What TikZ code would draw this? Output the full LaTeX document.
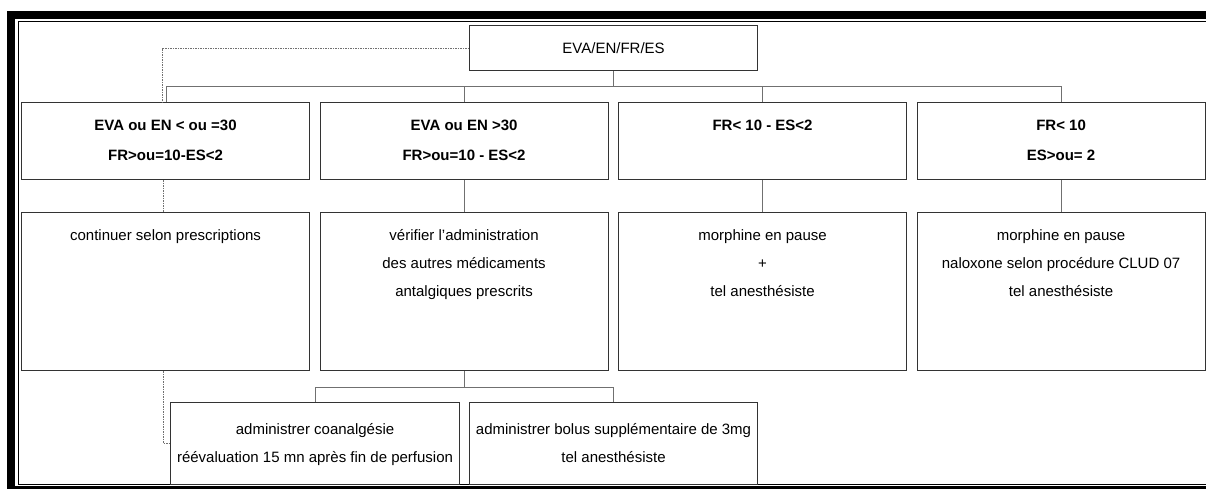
\documentclass[tikz,border=0pt]{standalone}
\usepackage{fontspec}
\setmainfont{Liberation Sans}
\usepackage{tikz}
\usetikzlibrary{positioning, calc}
\definecolor{boxgray}{HTML}{333333}
\definecolor{linegray}{HTML}{707070}

\begin{document}
\begin{tikzpicture}[x=1pt, y=-1pt,
  box/.style={draw=boxgray, line width=1.1pt, minimum width=288pt, inner sep=0pt, anchor=north west},
  txt/.style={font=\fontsize{15}{28}\selectfont, align=center, inner sep=0pt},
  crit/.style={txt, font=\bfseries\fontsize{15}{30}\selectfont},
  link/.style={draw=linegray, line width=0.8pt},
  dots/.style={draw=linegray, line width=0.7pt, dash pattern=on 1.5pt off 1pt}]
  \useasboundingbox (0,0) rectangle (1206,489);
  % double frame, right side cut off
  \fill[black] (7,11) rectangle (1206,19);
  \fill[black] (7,11) rectangle (15,489);
  \fill[black] (7,486) rectangle (1206,489);
  \draw[line width=0.8pt] (1206,21.5) -- (18,21.5) -- (18,484) -- (1206,484);

  % boxes
  \node[box, minimum height=45pt] (top) at (469,25) {};
  \foreach \i/\x in {1/21, 2/319.5, 3/618, 4/916.5}{
    \node[box, minimum height=77pt] (c\i) at (\x,102) {};
    \node[box, minimum height=158pt] (a\i) at (\x,212) {};
  }
  \node[box, minimum width=289pt, minimum height=82pt] (b1) at (170,402) {};
  \node[box, minimum height=82pt] (b2) at (469,402) {};

  % texts
  \node[txt] (toptxt) at (top.center) {EVA/EN/FR/ES};
  \node[crit, below=18pt of c1.north] (c1txt) {EVA ou EN < ou =30\\FR>ou=10-ES<2};
  \node[crit, below=18pt of c2.north] (c2txt) {EVA ou EN >30\\FR>ou=10 - ES<2};
  \node[crit, below=18pt of c3.north] (c3txt) {FR< 10 - ES<2};
  \node[crit, below=18pt of c4.north] (c4txt) {FR< 10\\ES>ou= 2};
  \node[txt, below=17pt of a1.north] (a1txt) {continuer selon prescriptions};
  \node[txt, below=17pt of a2.north] (a2txt) {vérifier l'administration\\des autres médicaments\\antalgiques prescrits};
  \node[txt, below=17pt of a3.north] (a3txt) {morphine en pause\\+\\tel anesthésiste};
  \node[txt, below=17pt of a4.north] (a4txt) {morphine en pause\\naloxone selon procédure CLUD 07\\tel anesthésiste};
  \node[txt, below=21pt of b1.north] (b1txt) {administrer coanalgésie\\réévaluation 15 mn après fin de perfusion};
  \node[txt, below=21pt of b2.north] (b2txt) {administrer bolus supplémentaire de 3mg\\tel anesthésiste};

  % connectors
  \draw[link] (top.south) -- ++(0,16);
  \draw[link] ([shift={(1pt,16pt)}]c1.north) -- ([yshift=16pt]c4.north);
  \draw[link] ([xshift=1pt]c1.north) -- ++(0,-16);
  \foreach \i in {2,3,4}{
    \draw[link] (c\i.north) -- ++(0,-16);
    \draw[link] (c\i.south) -- (a\i.north);
  }
  \draw[dots] (top.west) -| ([xshift=-3pt]c1.north);
  \draw[dots] ([xshift=-2pt]c1.south) -- ([xshift=-2pt]a1.north);
  \draw[dots] ([xshift=-2pt]a1.south) |- (b1.west);
  \draw[link] (a2.south) -- ++(0,17);
  \draw[link] (b1.north) -- ++(0,-15) -| (b2.north);
\end{tikzpicture}
\end{document}
